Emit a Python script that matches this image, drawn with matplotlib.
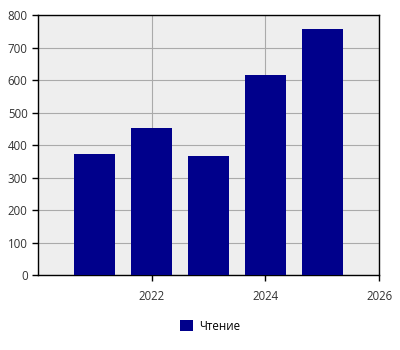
import matplotlib
matplotlib.use("Agg")
import matplotlib.pyplot as plt
from matplotlib.patches import Patch

years = [2021, 2022, 2023, 2024, 2025]
values = [372, 452, 366, 615, 757]
series_name = "Чтение"
xticks = [2022, 2024, 2026]
yticks = [0, 100, 200, 300, 400, 500, 600, 700, 800]

plt.rcParams['font.family'] = ['Open Sans', 'DejaVu Sans']

fig = plt.figure(figsize=(4, 3.5), dpi=100)
ax = fig.add_axes([0.095, 0.214, 0.8525, 0.743])
ax.set_facecolor('#eeeeee')
ax.bar(years, values, width=0.72, color='#00008b', zorder=3)
ax.set_xlim(2020, 2026)
ax.set_ylim(0, 800)
ax.set_xticks(xticks)
ax.set_xticklabels([str(t) for t in xticks])
ax.set_yticks(yticks)
ax.grid(True, color='#aaaaaa', linewidth=0.8, zorder=1)
ax.set_axisbelow(True)
for s in ax.spines.values():
    s.set_color('black')
    s.set_linewidth(1)
ax.tick_params(axis='both', direction='out', length=4, width=1, colors='black',
               labelcolor='#333333', labelsize=8.3)
ax.tick_params(axis='x', pad=7)

fig.legend(handles=[Patch(facecolor='#00008b', label=series_name)],
           loc='center', bbox_to_anchor=(0.525, 0.068), frameon=False,
           fontsize=8.3, handlelength=1.1, handleheight=1.1, handletextpad=0.5)

fig.savefig('out.png', dpi=100)
